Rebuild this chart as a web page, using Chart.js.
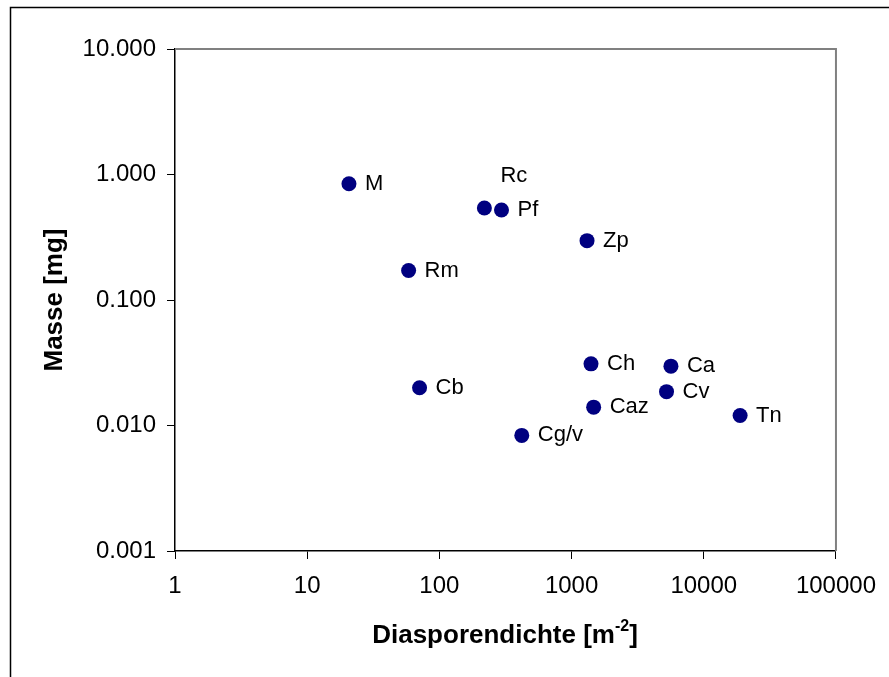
<!DOCTYPE html>
<html>
<head>
<meta charset="utf-8">
<script src="https://cdn.jsdelivr.net/npm/chart.js@4/dist/chart.umd.min.js"></script>
<style>
  html, body { margin: 0; padding: 0; background: #fff; }
  #wrap { width: 889px; height: 677px; }
</style>
</head>
<body>
<div id="wrap"><canvas id="c" width="889" height="677"></canvas></div>
<script>
// Species codes
const species = ['M', 'Rc', 'Pf', 'Zp', 'Rm', 'Ch', 'Ca', 'Cb', 'Cv', 'Caz', 'Tn', 'Cg/v'];
// Diaspore density [m^-2]
const density = [20.7, 219, 295, 1309, 58.5, 1403, 5645, 70.8, 5227, 1469, 18830, 420];
// Diaspore mass [mg]
const mass = [0.843, 0.541, 0.521, 0.297, 0.172, 0.0310, 0.0297, 0.0200, 0.0186, 0.0140, 0.0120, 0.00834];
// Axis ticks
const xTicks = [1, 10, 100, 1000, 10000, 100000];
const yTicks = [0.001, 0.01, 0.1, 1, 10];

const FONT = "'Liberation Sans', Arial, Helvetica, sans-serif";

const points = species.map((s, i) => ({ x: density[i], y: mass[i], label: s }));

// Frame, plot border, axis titles and point labels
const decor = {
  id: 'decor',
  beforeDraw(chart) {
    const ctx = chart.ctx;
    ctx.save();
    ctx.fillStyle = '#fff';
    ctx.fillRect(0, 0, chart.width, chart.height);
    // outer frame (left and top edges)
    ctx.strokeStyle = '#000';
    ctx.lineWidth = 1.5;
    ctx.beginPath();
    ctx.moveTo(10.5, chart.height);
    ctx.lineTo(10.5, 7.5);
    ctx.lineTo(chart.width, 7.5);
    ctx.stroke();
    ctx.restore();
  },
  afterDraw(chart) {
    const ctx = chart.ctx;
    const a = chart.chartArea;
    ctx.save();
    // grey top and right plot border
    ctx.strokeStyle = '#808080';
    ctx.lineWidth = 2;
    ctx.beginPath();
    ctx.moveTo(a.left, a.top);
    ctx.lineTo(a.right, a.top);
    ctx.lineTo(a.right, a.bottom);
    ctx.stroke();

    // y axis title
    ctx.fillStyle = '#000';
    ctx.font = 'bold 26px ' + FONT;
    ctx.textAlign = 'center';
    ctx.textBaseline = 'alphabetic';
    ctx.save();
    ctx.translate(62, 300);
    ctx.rotate(-Math.PI / 2);
    ctx.fillText('Masse [mg]', 0, 0);
    ctx.restore();

    // x axis title with superscript
    const main = 'Diasporendichte [m';
    const sup = '-2';
    const tail = ']';
    ctx.font = 'bold 26px ' + FONT;
    const wMain = ctx.measureText(main).width;
    const wTail = ctx.measureText(tail).width;
    ctx.font = 'bold 16px ' + FONT;
    const wSup = ctx.measureText(sup).width;
    const total = wMain + wSup + wTail;
    let x = 505 - total / 2;
    const base = 643;
    ctx.textAlign = 'left';
    ctx.font = 'bold 26px ' + FONT;
    ctx.fillText(main, x, base);
    x += wMain;
    ctx.font = 'bold 16px ' + FONT;
    ctx.fillText(sup, x, base - 12);
    x += wSup;
    ctx.font = 'bold 26px ' + FONT;
    ctx.fillText(tail, x, base);

    // point labels
    const meta = chart.getDatasetMeta(0);
    ctx.font = '22px ' + FONT;
    ctx.textBaseline = 'middle';
    ctx.textAlign = 'left';
    meta.data.forEach((el, i) => {
      const lbl = points[i].label;
      let dx = 16, dy = 0;
      if (lbl === 'Rc') { dy = -32; }
      ctx.fillText(lbl, el.x + dx, el.y + dy);
    });
    ctx.restore();
  }
};

new Chart(document.getElementById('c'), {
  type: 'scatter',
  data: {
    datasets: [{
      data: points,
      backgroundColor: '#000080',
      borderColor: '#000080',
      borderWidth: 0,
      pointRadius: 7.5,
      pointHoverRadius: 7.5
    }]
  },
  options: {
    responsive: false,
    animation: false,
    devicePixelRatio: 1,
    layout: { padding: { top: 49, right: 52, left: 0, bottom: 0 } },
    plugins: { legend: { display: false }, tooltip: { enabled: false } },
    scales: {
      x: {
        type: 'logarithmic',
        min: 1,
        max: 100000,
        afterBuildTicks(scale) { scale.ticks = xTicks.map(v => ({ value: v })); },
        afterFit(scale) { scale.height = 126; },
        ticks: {
          color: '#000',
          font: { family: FONT, size: 24 },
          padding: 13,
          maxRotation: 0,
          autoSkip: false,
          callback: (v) => String(v)
        },
        grid: { drawOnChartArea: false, drawTicks: true, tickLength: 8, tickColor: '#000', color: '#000' },
        border: { display: true, color: '#000', width: 1.5 }
      },
      y: {
        type: 'logarithmic',
        min: 0.001,
        max: 10,
        afterBuildTicks(scale) { scale.ticks = yTicks.map(v => ({ value: v })); },
        afterFit(scale) { scale.width = 175; },
        ticks: {
          color: '#000',
          font: { family: FONT, size: 24 },
          padding: 11,
          autoSkip: false,
          callback: (v) => Number(v).toFixed(3)
        },
        grid: { drawOnChartArea: false, drawTicks: true, tickLength: 8, tickColor: '#000', color: '#000' },
        border: { display: true, color: '#000', width: 1.5 }
      }
    }
  },
  plugins: [decor]
});
</script>
</body>
</html>
